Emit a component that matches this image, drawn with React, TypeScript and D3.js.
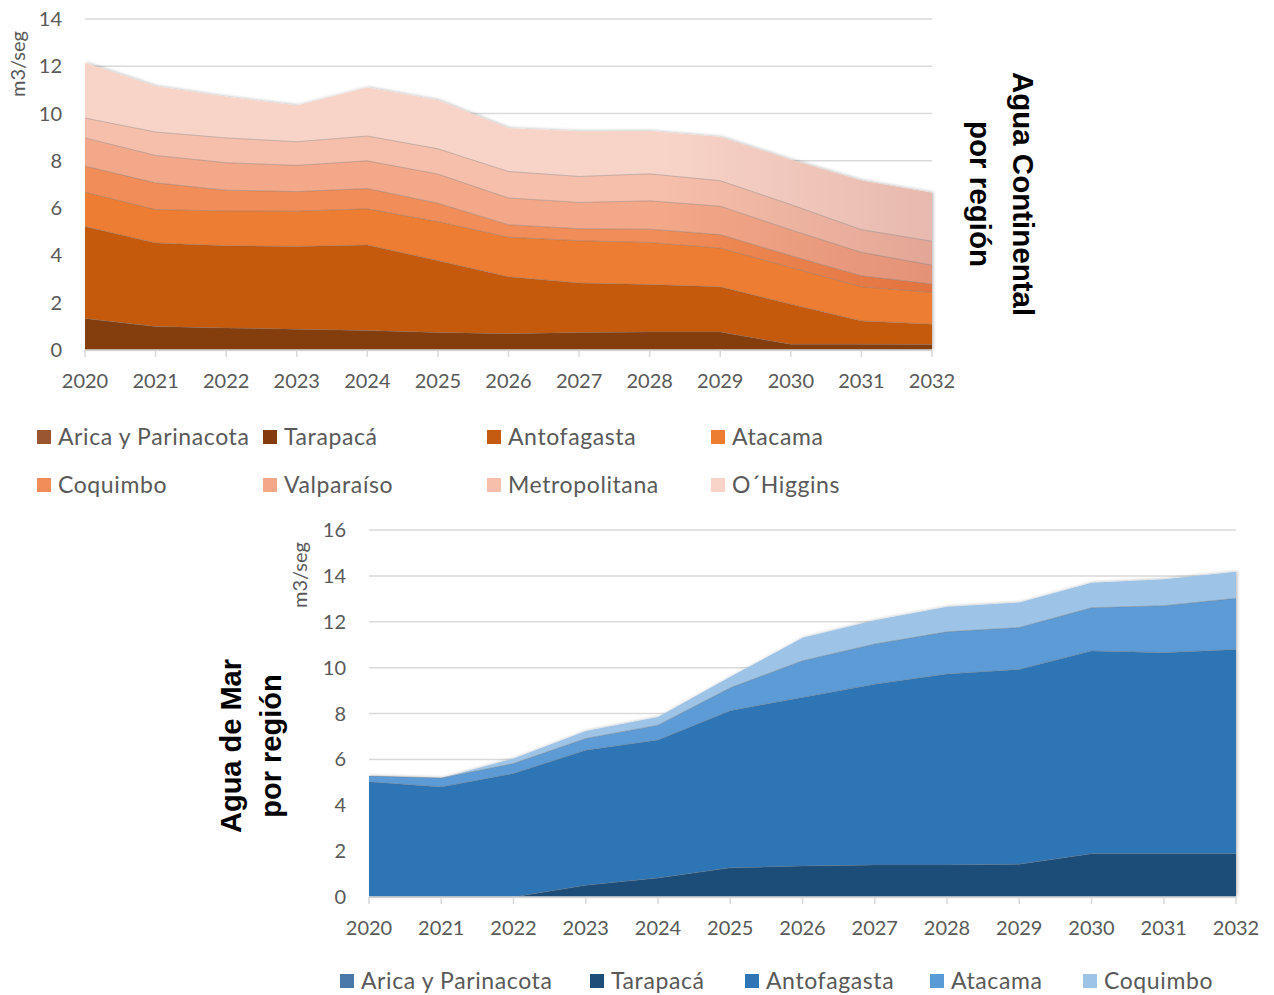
import React from "react";
import * as d3 from "d3";

// Years shared by both panels
const years = [2020, 2021, 2022, 2023, 2024, 2025, 2026, 2027, 2028, 2029, 2030, 2031, 2032];

// Continental water demand by region (m3/seg)
const contArica = [0, 0, 0, 0, 0, 0, 0, 0, 0, 0, 0, 0, 0];
const contTarapaca = [1.33, 0.99, 0.93, 0.88, 0.82, 0.74, 0.69, 0.74, 0.76, 0.76, 0.24, 0.24, 0.23];
const contAntofagasta = [3.89, 3.54, 3.48, 3.5, 3.62, 3.04, 2.41, 2.09, 2.01, 1.91, 1.7, 0.99, 0.86];
const contAtacama = [1.46, 1.41, 1.47, 1.49, 1.53, 1.65, 1.67, 1.79, 1.78, 1.64, 1.55, 1.44, 1.34];
const contCoquimbo = [1.1, 1.13, 0.88, 0.83, 0.86, 0.78, 0.53, 0.51, 0.56, 0.57, 0.5, 0.47, 0.36];
const contValparaiso = [1.19, 1.16, 1.16, 1.11, 1.17, 1.23, 1.13, 1.11, 1.2, 1.2, 1.09, 0.99, 0.8];
const contMetropolitana = [0.84, 0.99, 1.05, 1.0, 1.05, 1.07, 1.12, 1.1, 1.14, 1.08, 1.07, 0.96, 1.01];
const contOHiggins = [2.34, 1.94, 1.74, 1.53, 2.05, 2.05, 1.83, 1.91, 1.81, 1.85, 1.9, 2.08, 2.05];

// Sea water demand by region (m3/seg)
const marArica = [0, 0, 0, 0, 0, 0, 0, 0, 0, 0, 0, 0, 0];
const marTarapaca = [0, 0, 0, 0.51, 0.83, 1.27, 1.35, 1.4, 1.4, 1.43, 1.89, 1.89, 1.89];
const marAntofagasta = [5.02, 4.8, 5.38, 5.89, 6.01, 6.85, 7.35, 7.88, 8.32, 8.49, 8.84, 8.76, 8.9];
const marAtacama = [0.25, 0.39, 0.44, 0.51, 0.65, 1.0, 1.6, 1.75, 1.84, 1.83, 1.88, 2.05, 2.23];
const marCoquimbo = [0, 0, 0.22, 0.33, 0.36, 0.48, 1.0, 1.04, 1.09, 1.09, 1.09, 1.15, 1.16];

const contNames = ["Arica y Parinacota", "Tarapacá", "Antofagasta", "Atacama", "Coquimbo", "Valparaíso", "Metropolitana", "O´Higgins"];
const contSeries = [contArica, contTarapaca, contAntofagasta, contAtacama, contCoquimbo, contValparaiso, contMetropolitana, contOHiggins];
const contColors = ["#9a5630", "#843c0c", "#c55a11", "#ed7d31", "#f08d58", "#f3a889", "#f6bfab", "#f8d4c8"];
const contFade = ["#9a5630", "#843c0c", "#c55a11", "#ed7d31", "#e2733f", "#e39277", "#e3a696", "#e8b9ae"];

const marNames = ["Arica y Parinacota", "Tarapacá", "Antofagasta", "Atacama", "Coquimbo"];
const marSeries = [marArica, marTarapaca, marAntofagasta, marAtacama, marCoquimbo];
const marColors = ["#4a78aa", "#1f4e79", "#2e75b6", "#5b9bd5", "#9dc3e6"];

const contTicks = [0, 2, 4, 6, 8, 10, 12, 14];
const marTicks = [0, 2, 4, 6, 8, 10, 12, 14, 16];

const LABEL_FONT = "Lato, 'Open Sans', sans-serif";
const TITLE_FONT = "'Liberation Sans', Arial, sans-serif";
const TEXT_GRAY = "#595959";
const GRID = "#d9d9d9";

type PanelProps = {
  id: string;
  names: string[];
  series: number[][];
  colors: string[];
  fade?: string[];
  ticks: number[];
  yMax: number;
  x0: number;
  x1: number;
  yBottom: number;
  yTop: number;
  labelRight: number;
  unitX: number;
  unitY: number;
};

function Panel(p: PanelProps) {
  const x = d3.scaleLinear().domain([years[0], years[years.length - 1]]).range([p.x0, p.x1]);
  const y = d3.scaleLinear().domain([0, p.yMax]).range([p.yBottom, p.yTop]);
  const rows = years.map((yr, i) => {
    const r: Record<string, number> = { year: yr };
    p.names.forEach((n, k) => (r[n] = p.series[k][i]));
    return r;
  });
  const stacked = d3.stack<Record<string, number>>().keys(p.names)(rows);
  const area = d3
    .area<d3.SeriesPoint<Record<string, number>>>()
    .x((d) => x(d.data.year))
    .y0((d) => y(d[0]))
    .y1((d) => y(d[1]));
  const topLine = d3
    .line<d3.SeriesPoint<Record<string, number>>>()
    .x((d) => x(d.data.year))
    .y((d) => y(d[1]));

  return (
    <g>
      <defs>
        <filter id={`${p.id}-shadow`} x="-5%" y="-5%" width="110%" height="110%">
          <feDropShadow dx="1.5" dy="-0.5" stdDeviation="1.5" floodColor="#000" floodOpacity="0.25" />
        </filter>
        {p.colors.map((c, k) => (
          <linearGradient key={k} id={`${p.id}-g${k}`} x1={p.x0} x2={p.x1} y1="0" y2="0" gradientUnits="userSpaceOnUse">
            <stop offset="0" stopColor={c} />
            <stop offset="0.68" stopColor={c} />
            <stop offset="1" stopColor={p.fade ? p.fade[k] : c} />
          </linearGradient>
        ))}
      </defs>
      {/* gridlines */}
      {p.ticks.map((t) => (
        <line key={t} x1={p.x0} x2={p.x1} y1={y(t)} y2={y(t)} stroke={GRID} strokeWidth={1.5} />
      ))}
      {/* stacked areas */}
      <g filter={`url(#${p.id}-shadow)`}>
        {stacked.map((s, k) => (
          <path key={s.key} d={area(s) || ""} fill={`url(#${p.id}-g${k})`} />
        ))}
      </g>
      {stacked.slice(0, stacked.length - 1).map((s) => (
        <path key={`l-${s.key}`} d={topLine(s) || ""} fill="none" stroke="rgba(110,110,110,0.45)" strokeWidth={0.8} />
      ))}
      {/* x axis */}
      <line x1={p.x0} x2={p.x1} y1={p.yBottom} y2={p.yBottom} stroke={GRID} strokeWidth={1.5} />
      {years.map((yr) => (
        <g key={yr}>
          <line x1={x(yr)} x2={x(yr)} y1={p.yBottom} y2={p.yBottom + 7} stroke={GRID} strokeWidth={1.5} />
          <text x={x(yr)} y={p.yBottom + 38} textAnchor="middle" fontFamily={LABEL_FONT} fontSize={20} fill={TEXT_GRAY}>
            {yr}
          </text>
        </g>
      ))}
      {/* y tick labels */}
      {p.ticks.map((t) => (
        <text key={`y${t}`} x={p.labelRight} y={y(t) + 7} textAnchor="end" fontFamily={LABEL_FONT} fontSize={20} fill={TEXT_GRAY}>
          {t}
        </text>
      ))}
      <text
        transform={`translate(${p.unitX},${p.unitY}) rotate(-90)`}
        textAnchor="middle"
        fontFamily={LABEL_FONT}
        fontSize={20}
        fill={TEXT_GRAY}
      >
        m3/seg
      </text>
    </g>
  );
}

function Legend({ items, colors, xs, ys }: { items: string[]; colors: string[]; xs: number[]; ys: number[] }) {
  return (
    <g>
      {items.map((name, i) => (
        <g key={name} transform={`translate(${xs[i]},${ys[i]})`}>
          <rect x={0} y={-15} width={14} height={14} fill={colors[i]} />
          <text x={21} y={0} fontFamily={LABEL_FONT} fontSize={23} letterSpacing={0.6} fill={TEXT_GRAY}>
            {name}
          </text>
        </g>
      ))}
    </g>
  );
}

export default function App() {
  return (
    <svg
      width={1274}
      height={995}
      viewBox="0 0 1274 995"
      style={{ position: "absolute", left: 0, top: 0, background: "#fff" }}
    >
      <rect width={1274} height={995} fill="#fff" />
      <Panel
        id="cont"
        names={contNames}
        series={contSeries}
        colors={contColors}
        fade={contFade}
        ticks={contTicks}
        yMax={14}
        x0={85}
        x1={932}
        yBottom={350}
        yTop={19}
        labelRight={62}
        unitX={25}
        unitY={64}
      />
      <text transform="translate(1013,194) rotate(90)" textAnchor="middle" fontFamily={TITLE_FONT} fontWeight="bold" fontSize={29.5} fill="#000">
        Agua Continental
      </text>
      <text transform="translate(970,194) rotate(90)" textAnchor="middle" fontFamily={TITLE_FONT} fontWeight="bold" fontSize={29.5} fill="#000">
        por región
      </text>
      <Legend
        items={contNames}
        colors={contColors}
        xs={[37, 263, 487, 711, 37, 263, 487, 711]}
        ys={[445, 445, 445, 445, 493, 493, 493, 493]}
      />

      <Panel
        id="mar"
        names={marNames}
        series={marSeries}
        colors={marColors}
        ticks={marTicks}
        yMax={16}
        x0={369}
        x1={1236}
        yBottom={897}
        yTop={530}
        labelRight={346}
        unitX={307}
        unitY={575}
      />
      <text transform="translate(241,746) rotate(-90)" textAnchor="middle" fontFamily={TITLE_FONT} fontWeight="bold" fontSize={29} fill="#000">
        Agua de Mar
      </text>
      <text transform="translate(281,746) rotate(-90)" textAnchor="middle" fontFamily={TITLE_FONT} fontWeight="bold" fontSize={29} fill="#000">
        por región
      </text>
      <Legend
        items={marNames}
        colors={marColors}
        xs={[340, 590, 745, 930, 1083]}
        ys={[989, 989, 989, 989, 989]}
      />
    </svg>
  );
}
